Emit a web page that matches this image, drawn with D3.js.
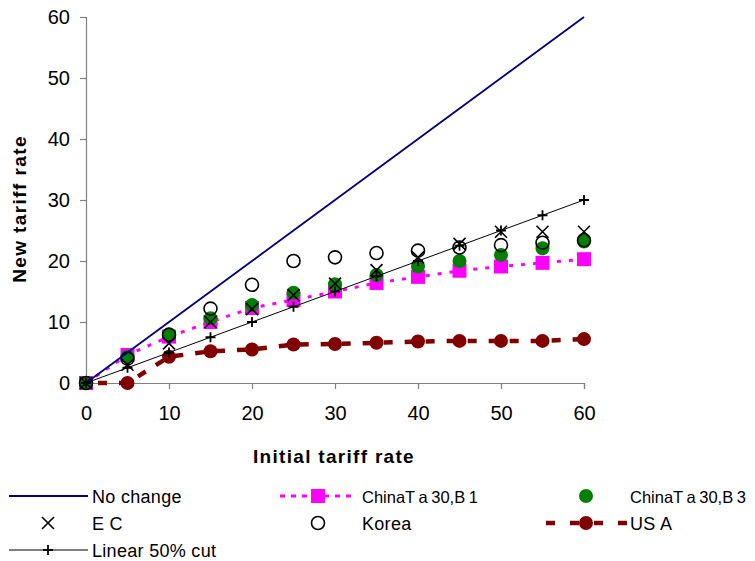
<!DOCTYPE html>
<html><head><meta charset="utf-8">
<script src="https://cdn.jsdelivr.net/npm/d3@7"></script>
<style>body{margin:0;background:#fff}svg{display:block}</style>
</head><body>
<svg id="c" width="755" height="561"></svg>
<script>
const initialRates = [0,5,10,15,20,25,30,35,40,45,50,55,60];
const noChange   = [0,5,10,15,20,25,30,35,40,45,50,55,60];
const chinaB1    = [0,4.6,7.6,10.0,12.3,13.6,15.0,16.4,17.4,18.4,19.1,19.7,20.3];
const chinaB3    = [0,4.3,8.0,10.6,12.8,14.8,16.2,17.7,19.1,20.0,21.0,22.1,23.2];
const ec         = [0,3.0,6.5,10.0,12.1,14.4,16.3,18.5,20.6,22.8,24.8,24.8,24.8];
const korea      = [0,4.0,7.9,12.2,16.1,20.0,20.6,21.3,21.7,22.2,22.6,23.0,23.4];
const usa        = [0,0,4.3,5.2,5.5,6.3,6.4,6.6,6.8,6.9,6.9,6.9,7.2];
const linearCut  = [0,2.5,5,7.5,10,12.5,15,17.5,20,22.5,25,27.5,30];
const xTicks = [0,10,20,30,40,50,60];
const yTicks = [0,10,20,30,40,50,60];
const legendLabels = ["No change","ChinaT a 30,B 1","ChinaT a 30,B 3","E C","Korea","US A","Linear 50% cut"];

const svg = d3.select("#c");
const x = d3.scaleLinear().domain([0,60]).range([86,584]);
const y = d3.scaleLinear().domain([0,60]).range([383,17]);
const font = "'Liberation Sans', Arial, sans-serif";

// axes
const yAx = svg.append("g").attr("transform","translate(86,0)")
  .call(d3.axisLeft(y).tickValues(yTicks).tickSize(6).tickPadding(10));
const xAx = svg.append("g").attr("transform","translate(0,383)")
  .call(d3.axisBottom(x).tickValues(xTicks).tickSize(6).tickPadding(17));
[yAx,xAx].forEach(g=>{
  g.select(".domain").attr("stroke","#808080").attr("stroke-width",1.2);
  g.selectAll(".tick line").attr("stroke","#808080").attr("stroke-width",1.2);
  g.selectAll("text").attr("font-family",font).attr("font-size",20).attr("fill","#000");
});

svg.append("text").attr("x",334).attr("y",463).attr("text-anchor","middle")
  .attr("font-family",font).attr("font-weight","bold").attr("font-size",19).attr("letter-spacing",1.3).text("Initial tariff rate");
svg.append("text").attr("transform","translate(26,209) rotate(-90)").attr("text-anchor","middle")
  .attr("font-family",font).attr("font-weight","bold").attr("font-size",19).attr("letter-spacing",1.4).text("New tariff rate");

const pts = arr => arr.map((v,i)=>[x(initialRates[i]), y(v)]);
const line = d3.line();
const plot = svg.append("g");

function sq(g,cx,cy,s){g.append("rect").attr("x",cx-s/2).attr("y",cy-s/2).attr("width",s).attr("height",s).attr("fill","#ff00ff");}
function dot(g,cx,cy,r,c){g.append("circle").attr("cx",cx).attr("cy",cy).attr("r",r).attr("fill",c);}
function ring(g,cx,cy){g.append("circle").attr("cx",cx).attr("cy",cy).attr("r",6.5).attr("fill","none").attr("stroke","#000").attr("stroke-width",1.6);}
function cross(g,cx,cy){const s=6;g.append("path").attr("d",`M${cx-s},${cy-s}L${cx+s},${cy+s}M${cx-s},${cy+s}L${cx+s},${cy-s}`).attr("stroke","#000").attr("stroke-width",1.6);}
function plus(g,cx,cy){const s=5;g.append("path").attr("d",`M${cx-s},${cy}L${cx+s},${cy}M${cx},${cy-s}L${cx},${cy+s}`).attr("stroke","#000").attr("stroke-width",1.8);}

// USA dashed
plot.append("path").attr("d",line(pts(usa))).attr("fill","none").attr("stroke","#800000").attr("stroke-width",4.5).attr("stroke-dasharray","9,12").attr("stroke-dashoffset",-12);
pts(usa).forEach(p=>dot(plot,p[0],p[1],7,"#800000"));
// China B1
plot.append("path").attr("d",line(pts(chinaB1))).attr("fill","none").attr("stroke","#ff00ff").attr("stroke-width",3).attr("stroke-dasharray","4,8");
pts(chinaB1).forEach(p=>sq(plot,p[0],p[1],14));
// China B3
pts(chinaB3).forEach(p=>dot(plot,p[0],p[1],7,"#008000"));
// Korea
pts(korea).forEach(p=>ring(plot,p[0],p[1]));
// EC
pts(ec).forEach(p=>cross(plot,p[0],p[1]));
// No change
plot.append("path").attr("d",line(pts(noChange))).attr("fill","none").attr("stroke","#000080").attr("stroke-width",1.8);
// Linear
plot.append("path").attr("d",line(pts(linearCut))).attr("fill","none").attr("stroke","#000").attr("stroke-width",1);
pts(linearCut).forEach(p=>plus(plot,p[0],p[1]));

// legend
const lg = svg.append("g");
const lt = (tx,ty,t,narrow)=>{const e=lg.append("text").attr("x",tx).attr("y",ty+6.5).attr("font-family",font).attr("font-size",18).attr("letter-spacing",0.3).text(t);
  if(narrow) e.attr("font-size",16.5).attr("letter-spacing",0).attr("word-spacing",-1); return e;};
const r1=496,r2=523,r3=550;
lg.append("line").attr("x1",9).attr("x2",88).attr("y1",r1).attr("y2",r1).attr("stroke","#000080").attr("stroke-width",1.8);
lt(92,r1,legendLabels[0]);
lg.append("line").attr("x1",280).attr("x2",356).attr("y1",r1).attr("y2",r1).attr("stroke","#ff00ff").attr("stroke-width",3).attr("stroke-dasharray","5,6");
sq(lg,318,r1,14); lt(362,r1,legendLabels[1],true);
dot(lg,586,r1,7,"#008000"); lt(630,r1,legendLabels[2],true);
cross(lg,48,r2); lt(92,r2,legendLabels[3]);
ring(lg,318,r2); lt(362,r2,legendLabels[4]);
lg.append("line").attr("x1",546).attr("x2",627).attr("y1",r2).attr("y2",r2).attr("stroke","#800000").attr("stroke-width",4.5).attr("stroke-dasharray","9,15");
dot(lg,586,r2,7,"#800000"); lt(630,r2,legendLabels[5]);
lg.append("line").attr("x1",9).attr("x2",88).attr("y1",r3).attr("y2",r3).attr("stroke","#000").attr("stroke-width",1);
plus(lg,48,r3); lt(92,r3,legendLabels[6]);
</script>
</body></html>
